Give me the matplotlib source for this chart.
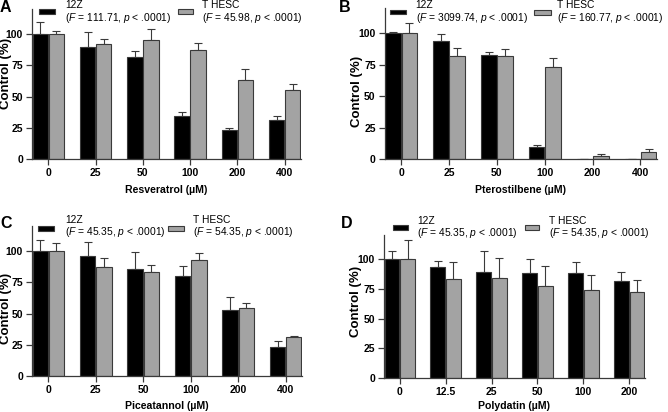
import matplotlib.pyplot as plt
import numpy as np
from matplotlib.patches import Rectangle

# panel A - resveratrol
res_doses = ["0", "25", "50", "100", "200", "400"]
res_12z = [100, 89.3, 81.9, 34.9, 23.2, 31.2]
res_12z_err = [9.3, 12.3, 4.2, 2.7, 2.1, 3.7]
res_thesc = [100, 92.0, 95.2, 87.5, 63.5, 55.2]
res_thesc_err = [2.1, 4.3, 8.8, 5.3, 8.5, 4.8]
res_stats = ["(F = 111.71, p < .0001)", "(F = 45.98, p < .0001)"]

# panel B - pterostilbene
pte_doses = ["0", "25", "50", "100", "200", "400"]
pte_12z = [100, 93.7, 82.8, 10.0, 0.0, 0.5]
pte_12z_err = [1.3, 6.0, 2.1, 1.1, 0.0, 0.0]
pte_thesc = [100, 81.7, 81.7, 73.5, 2.6, 5.6]
pte_thesc_err = [7.9, 6.3, 5.6, 6.7, 1.4, 2.3]
pte_stats = ["(F = 3099.74, p < .0001)", "(F = 160.77, p < .0001)"]

# panel C - piceatannol
pic_doses = ["0", "25", "50", "100", "200", "400"]
pic_12z = [100, 95.8, 85.7, 80.4, 53.0, 23.1]
pic_12z_err = [8.8, 11.1, 13.8, 7.9, 9.9, 4.8]
pic_thesc = [100, 87.3, 83.6, 92.6, 54.1, 31.0]
pic_thesc_err = [6.4, 7.4, 5.3, 5.8, 4.0, 1.4]
pic_stats = ["(F = 45.35, p < .0001)", "(F = 54.35, p < .0001)"]

# panel D - polydatin
pol_doses = ["0", "12.5", "25", "50", "100", "200"]
pol_12z = [100, 93.3, 89.1, 88.0, 88.6, 81.9]
pol_12z_err = [7.2, 5.0, 18.1, 12.0, 8.6, 7.0]
pol_thesc = [100, 83.3, 84.4, 77.7, 73.8, 72.1]
pol_thesc_err = [16.2, 14.5, 16.4, 16.2, 13.1, 10.6]
pol_stats = ["(F = 45.35, p < .0001)", "(F = 54.35, p < .0001)"]

series_names = ["12Z", "T HESC"]

W, H = 668, 412
FONT = "Liberation Sans"
plt.rcParams["font.family"] = FONT
plt.rcParams["mathtext.fontset"] = "custom"
plt.rcParams["mathtext.rm"] = FONT
plt.rcParams["mathtext.it"] = FONT + ":italic"

EDGE = "#3a3a3a"
GREY = "#a3a3a3"


def fx(x):
    return x / W


def fy(y):
    return 1 - y / H


def italicize(s):
    return s.replace("F =", "$F$ =").replace("p <", "$p$ <")


def draw_panel(fig, box, letter, doses, a, a_err, b, b_err, stats, xlabel, layout):
    left, top, right, bottom = box
    ax = fig.add_axes([fx(left), fy(bottom), fx(right - left), (bottom - top) / H])
    x = np.arange(len(doses))
    width = 0.325
    off = 0.17
    ax.bar(x - off, a, width, color="black", edgecolor=EDGE, linewidth=0.8, zorder=2)
    ax.bar(x + off, b, width, color=GREY, edgecolor=EDGE, linewidth=0.8, zorder=2)
    ax.errorbar(x - off, a, yerr=[np.zeros(len(a)), a_err], fmt="none",
                ecolor=EDGE, elinewidth=0.8, capsize=2.9, capthick=0.8, zorder=1)
    ax.errorbar(x + off, b, yerr=[np.zeros(len(b)), b_err], fmt="none",
                ecolor=EDGE, elinewidth=0.8, capsize=2.9, capthick=0.8, zorder=1)

    ax.set_xlim(-0.345, len(doses) - 1 + 0.345)
    ax.set_ylim(0, 120)
    ax.set_yticks([0, 25, 50, 75, 100])
    ax.set_xticks(x)
    ax.set_xticklabels(doses)
    for side in ["top", "right"]:
        ax.spines[side].set_visible(False)
    for side in ["left", "bottom"]:
        ax.spines[side].set_color(EDGE)
        ax.spines[side].set_linewidth(0.9)
    ax.tick_params(length=4, width=0.9, color=EDGE, pad=2.5, labelsize=7.5)
    for lab in ax.get_xticklabels() + ax.get_yticklabels():
        lab.set_fontweight("bold")

    ax.set_ylabel("Control (%)", fontsize=9.5, fontweight="bold", va="center")
    ylx, yly = layout["ylabel"]
    ax.yaxis.set_label_coords(-ylx / (right - left), yly)
    ax.set_xlabel(xlabel, fontsize=7.6, fontweight="bold", va="center")
    ax.xaxis.set_label_coords(0.5, -layout["xlabel"] / (bottom - top))

    # panel letter
    lx, ly = layout["letter"]
    fig.text(fx(lx), fy(ly), letter, fontsize=11.5, fontweight="bold", va="center", ha="left")

    # legend drawn by hand (two-line entries)
    colors = ["black", GREY]
    for (px0, px1, py0, py1, tx), name, stat, c in zip(layout["legend"], series_names, stats, colors):
        fig.add_artist(Rectangle((fx(px0), fy(py1)), fx(px1 - px0), (py1 - py0) / H,
                                 facecolor=c, edgecolor=EDGE, linewidth=0.8,
                                 transform=fig.transFigure))
        t1, t2 = layout["lines"]
        fig.text(fx(tx), fy(t1), name, fontsize=7.4, va="center", ha="left")
        fig.text(fx(tx), fy(t2), italicize(stat), fontsize=7.4, va="center", ha="left")
    return ax


fig = plt.figure(figsize=(W / 100, H / 100), dpi=100)

draw_panel(fig, (32, 9, 301, 159.3), "A", res_doses, res_12z, res_12z_err,
           res_thesc, res_thesc_err, res_stats, "Resveratrol (\u00b5M)",
           {"ylabel": (25.5, 0.57), "xlabel": 30.5, "letter": (0, 7),
            "legend": [(39, 55, 9.5, 14, 65), (178, 193, 9.5, 14, 202)],
            "lines": (5, 18.3)})

draw_panel(fig, (384.7, 8, 657, 159.3), "B", pte_doses, pte_12z, pte_12z_err,
           pte_thesc, pte_thesc_err, pte_stats, "Pterostilbene (\u00b5M)",
           {"ylabel": (28, 0.45), "xlabel": 30.5, "letter": (339, 7),
            "legend": [(390, 405.7, 9.5, 14.3, 415.7), (534, 550.7, 10, 14.8, 556.7)],
            "lines": (5, 18.3)})

draw_panel(fig, (32, 226, 302, 376), "C", pic_doses, pic_12z, pic_12z_err,
           pic_thesc, pic_thesc_err, pic_stats, "Piceatannol (\u00b5M)",
           {"ylabel": (25.5, 0.45), "xlabel": 30, "letter": (0, 223),
            "legend": [(38.3, 54.3, 226, 231, 65), (168, 184, 226, 231, 193.3)],
            "lines": (220, 232)})

draw_panel(fig, (384, 235.3, 645, 378), "D", pol_doses, pol_12z, pol_12z_err,
           pol_thesc, pol_thesc_err, pol_stats, "Polydatin (\u00b5M)",
           {"ylabel": (27.5, 0.54), "xlabel": 28, "letter": (341, 224),
            "legend": [(393, 408, 225, 230, 417.3), (524.7, 539, 225, 230, 549)],
            "lines": (221, 233.3)})

fig.savefig("out.png", dpi=100)
